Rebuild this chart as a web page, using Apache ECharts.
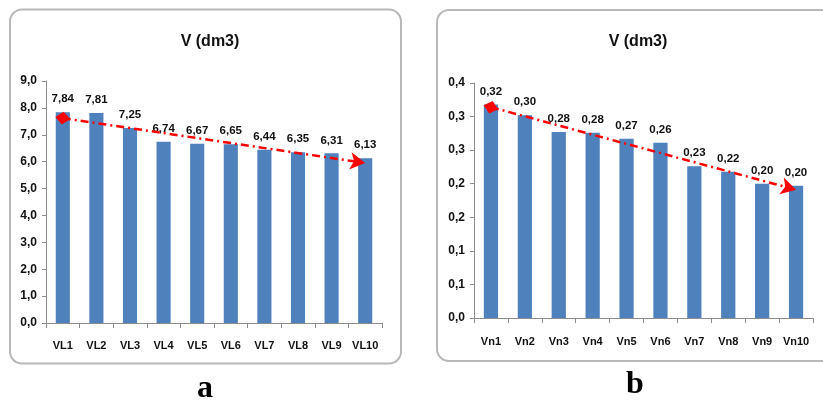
<!DOCTYPE html>
<html>
<head>
<meta charset="utf-8">
<script src="https://cdn.jsdelivr.net/npm/echarts@6/dist/echarts.min.js"></script>
<style>
html,body{margin:0;padding:0;background:#fff;}
#chart{width:823px;height:400px;}
</style>
</head>
<body>
<div id="chart"></div>
<script>
// ---- data ----
var categoriesA = ['VL1','VL2','VL3','VL4','VL5','VL6','VL7','VL8','VL9','VL10'];
var valuesA = [7.84, 7.81, 7.25, 6.74, 6.67, 6.65, 6.44, 6.35, 6.31, 6.13];
var trendA = [7.62, 5.95];          // trend line start (VL1) / end (VL10)
var categoriesB = ['Vn1','Vn2','Vn3','Vn4','Vn5','Vn6','Vn7','Vn8','Vn9','Vn10'];
var valuesB = [0.318, 0.302, 0.277, 0.276, 0.267, 0.261, 0.226, 0.218, 0.200, 0.197];
var trendB = [0.314, 0.191];        // trend line start (Vn1) / end (Vn10)
var tickLabelsA = ['0,0','1,0','2,0','3,0','4,0','5,0','6,0','7,0','8,0','9,0'];
var tickLabelsB = ['0,0','0,1','0,1','0,2','0,2','0,3','0,3','0,4'];
var titleText = 'V (dm3)';
var panelLabels = ['a','b'];

var FONT = "'Liberation Sans','Arial',sans-serif";
var barColor = '#4F81BD';
var axisColor = '#8c8c8c';

function fmt(v, d){ return v.toFixed(d).replace('.', ','); }

function xAxis(idx, cats, margin){
  return {
    type:'category', gridIndex:idx, data:cats, boundaryGap:true,
    axisLine:{lineStyle:{color:axisColor,width:1}},
    axisTick:{show:true, length:5, inside:false, alignWithLabel:false, interval:0, lineStyle:{color:axisColor}},
    axisLabel:{interval:0, margin:margin, color:'#111', fontFamily:FONT, fontWeight:'bold', fontSize:11}
  };
}
function yAxis(idx, max, interval, labels){
  return {
    type:'value', gridIndex:idx, min:0, max:max, interval:interval,
    splitLine:{show:false},
    axisLine:{show:true, lineStyle:{color:axisColor,width:1}},
    axisTick:{show:true, length:4, lineStyle:{color:axisColor}},
    axisLabel:{margin:9, color:'#111', fontFamily:FONT, fontWeight:'bold', fontSize:12,
      formatter:function(v){ return labels[Math.round(v/interval)]; }}
  };
}
function trendMark(cats, tr){
  return {
    silent:true, animation:false,
    symbol:['diamond','arrow'], symbolSize:[13,15],
    label:{show:false},
    lineStyle:{color:'#ff0000', width:2.5, type:[8,4,2,4], opacity:1},
    emphasis:{disabled:true},
    data:[[{coord:[cats[0], tr[0]]},{coord:[cats[cats.length-1], tr[1]]}]]
  };
}
function barSeries(idx, vals, cats, tr, dec){
  return {
    type:'bar', xAxisIndex:idx, yAxisIndex:idx, data:vals, barWidth:'42%',
    itemStyle:{color:barColor},
    label:{show:true, position:'top', distance:7, color:'#111', fontFamily:FONT,
      fontWeight:'bold', fontSize:11.5, formatter:function(p){ return fmt(p.value, dec); }},
    markLine: trendMark(cats, tr),
    animation:false
  };
}

var chart = echarts.init(document.getElementById('chart'), null, {renderer:'canvas'});
chart.setOption({
  animation:false,
  backgroundColor:'#ffffff',
  title:[
    {text:titleText, left:205, top:29, textAlign:'center',
     textStyle:{fontFamily:FONT, fontWeight:'bold', fontSize:16, color:'#111'}},
    {text:titleText, left:633, top:29, textAlign:'center',
     textStyle:{fontFamily:FONT, fontWeight:'bold', fontSize:16, color:'#111'}}
  ],
  grid:[
    {left:46, top:81, width:336, height:242},
    {left:474, top:83, width:339, height:235}
  ],
  xAxis:[xAxis(0, categoriesA, 17), xAxis(1, categoriesB, 18)],
  yAxis:[yAxis(0, 9, 1, tickLabelsA), yAxis(1, 0.35, 0.05, tickLabelsB)],
  series:[barSeries(0, valuesA, categoriesA, trendA, 2), barSeries(1, valuesB, categoriesB, trendB, 2)],
  graphic:[
    {type:'rect', z:-1, shape:{x:10, y:9.5, width:391, height:354, r:12},
     style:{fill:'none', stroke:'#b8b8b8', lineWidth:2}},
    {type:'rect', z:-1, shape:{x:437, y:10, width:400, height:351, r:12},
     style:{fill:'none', stroke:'#b8b8b8', lineWidth:2}},
    {type:'text', x:205, y:405, style:{text:panelLabels[0], font:"bold 32px 'Liberation Serif', serif",
      fill:'#000', textAlign:'center', textVerticalAlign:'bottom'}},
    {type:'text', x:635, y:401, style:{text:panelLabels[1], font:"bold 32px 'Liberation Serif', serif",
      fill:'#000', textAlign:'center', textVerticalAlign:'bottom'}}
  ]
});
</script>
</body>
</html>
